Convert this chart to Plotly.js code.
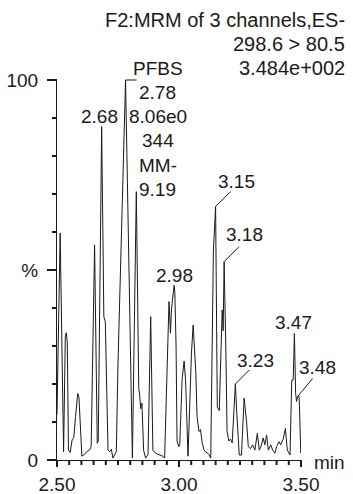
<!DOCTYPE html>
<html><head><meta charset="utf-8">
<script src="https://cdn.plot.ly/plotly-3.0.1.min.js"></script>
<style>html,body{margin:0;padding:0;background:#fff}#chart{width:353px;height:494px}</style>
</head><body><div id="chart"></div>
<script>
// ---- data ----
const times = [
 2.500, 2.513, 2.527, 2.534, 2.538, 2.542, 2.547, 2.554, 2.562, 2.569,
 2.576, 2.585, 2.590, 2.595, 2.602, 2.613, 2.622, 2.633, 2.640, 2.654,
 2.665, 2.669, 2.683, 2.692, 2.698, 2.709, 2.716, 2.723, 2.729, 2.743,
 2.750, 2.781, 2.809, 2.825, 2.835, 2.839, 2.843, 2.848, 2.855, 2.863,
 2.873, 2.884, 2.893, 2.900, 2.913, 2.934, 2.941, 2.959, 2.965, 2.969,
 2.980, 2.983, 2.988, 2.992, 2.999, 3.003, 3.013, 3.021, 3.027, 3.037,
 3.044, 3.051, 3.058, 3.062, 3.069, 3.074, 3.082, 3.088, 3.095, 3.103,
 3.113, 3.122, 3.130, 3.141, 3.150, 3.157, 3.165, 3.172, 3.177, 3.181,
 3.185, 3.192, 3.197, 3.204, 3.211, 3.218, 3.231, 3.237, 3.243, 3.247,
 3.256, 3.267, 3.277, 3.284, 3.293, 3.302, 3.311, 3.321, 3.329, 3.336,
 3.345, 3.352, 3.359, 3.366, 3.376, 3.384, 3.393, 3.400, 3.410, 3.417,
 3.427, 3.436, 3.444, 3.455, 3.462, 3.468, 3.473, 3.478, 3.482, 3.486,
 3.491, 3.493, 3.499
];
const intensity = [
 12, 59.7, 2.2, 32.5, 33.5, 31, 2.6, 2, 5.3, 6,
 11.4, 17.5, 16.5, 9, 1, 1.5, 2.2, 2.6, 3.5, 56.6,
 4.4, 5, 87.7, 37.7, 36.4, 2.6, 2.2, 2.8, 0.5, 2.2,
 25.5, 100, 0.5, 70.6, 19, 17, 13.5, 15, 2.6, 0.5,
 1.5, 37.7, 2.6, 2, 1.5, 1, 0.5, 41.7, 33.4, 39.5,
 46, 44, 30, 5, 3.5, 4, 21.5, 26, 21, 1,
 15, 28, 35.5, 30, 23, 11.4, 7.5, 8, 4.5, 2.5,
 2, 1.5, 0.5, 55, 66.7, 14, 13, 29, 39.5, 34,
 52.2, 29, 7.5, 5, 5.5, 4.5, 20, 12, 6, 1.3,
 1.3, 16.3, 10, 3.5, 3, 4, 2.6, 7, 2.6, 3.5,
 5.8, 4, 6.6, 2.6, 4, 2.6, 1.8, 3.5, 4.8, 4,
 5.5, 8.3, 2.6, 1.3, 21, 21, 33.3, 17.5, 15.4, 16.7,
 17, 15.8, 1.8
];
const peakTimes  = [2.683, 2.980, 3.150, 3.185, 3.231, 3.473, 3.486];
const peakLabels = ['2.68', '2.98', '3.15', '3.18', '3.23', '3.47', '3.48'];
const mainPeakTime = 2.781;
const mainPeakLines = ['PFBS', '2.78', '8.06e0', '344', 'MM-', '9.19'];
const headerLines = ['F2:MRM of 3 channels,ES-', '298.6 > 80.5', '3.484e+002'];
const xTickVals = [2.5, 3.0, 3.5];
const xTickText = ['2.50', '3.00', '3.50'];
const xMinorStep = 0.05;
const yTickVals = [0, 50, 100];
const yTickText = ['0', '%', '100'];
const yMinorStep = 10;
const xUnit = 'min';

// ---- styling / placement ----
const INK = '#1a1a1a';
const FONT = {family: 'Liberation Sans, Arial, Helvetica, sans-serif', size: 19, color: INK};
const HEAD_FONT = Object.assign({}, FONT, {size: 20});
const W = 353, H = 494, M = {l: 57, r: 52, t: 80, b: 34};
const PW = W - M.l - M.r, PH = H - M.t - M.b;
const X_RANGE = [2.5, 3.5], Y_RANGE = [0, 100];
const TICK = {xMajor: 7, xMinor: 5, yMajor: 10, yMinor: 5, width: 2};
const labelStyle = [
  {dx: -2, dy: 10, cx: 0,  cy: 0},     // 2.68
  {dx: 0,  dy: 10, cx: 0,  cy: 0},     // 2.98
  {dx: 21, dy: 25, cx: 15, cy: 15},    // 3.15
  {dx: 20, dy: 27, cx: 15, cy: 15},    // 3.18
  {dx: 20, dy: 24, cx: 14, cy: 14},    // 3.23
  {dx: -1, dy: 11, cx: 0,  cy: 0},     // 3.47
  {dx: 20, dy: 29, cx: 15, cy: 18}     // 3.48
];
const headerPx = {right: 347, ys: [20, 44, 68]};
const mainBlock = {dx: 32, ys: [12, -12.3, -36.5, -60.8, -85, -109.3], connector: 11};

function valueAt(t) {
  let best = 0;
  for (let i = 1; i < times.length; i++) {
    if (Math.abs(times[i] - t) < Math.abs(times[best] - t)) best = i;
  }
  return intensity[best];
}
const pxToPaperX = px => (px - M.l) / PW;
const pxToPaperY = py => (H - M.b - py) / PH;
const xToPaper = v => (v - X_RANGE[0]) / (X_RANGE[1] - X_RANGE[0]);
const yToPaper = v => (v - Y_RANGE[0]) / (Y_RANGE[1] - Y_RANGE[0]);

const annotations = [];
const shapes = [];
const ink = {color: INK, width: 1};
const tickInk = {color: INK, width: TICK.width};

// tick marks
const nx = Math.round((X_RANGE[1] - X_RANGE[0]) / xMinorStep);
for (let k = 0; k <= nx; k++) {
  const v = X_RANGE[0] + k * xMinorStep;
  const major = xTickVals.some(m => Math.abs(m - v) < 1e-9);
  const len = major ? TICK.xMajor : TICK.xMinor;
  shapes.push({type: 'line', xref: 'paper', yref: 'paper',
    x0: xToPaper(v), x1: xToPaper(v), y0: 0, y1: -len / PH, line: tickInk});
}
const ny = Math.round((Y_RANGE[1] - Y_RANGE[0]) / yMinorStep);
for (let k = 0; k <= ny; k++) {
  const v = Y_RANGE[0] + k * yMinorStep;
  const major = yTickVals.some(m => Math.abs(m - v) < 1e-9);
  const len = major ? TICK.yMajor : TICK.yMinor;
  shapes.push({type: 'line', xref: 'paper', yref: 'paper',
    x0: 0, x1: -len / PW, y0: yToPaper(v), y1: yToPaper(v), line: tickInk});
}

headerLines.forEach((txt, i) => {
  annotations.push({text: txt, xref: 'paper', yref: 'paper',
    x: pxToPaperX(headerPx.right), y: pxToPaperY(headerPx.ys[i]),
    xanchor: 'right', yanchor: 'middle', showarrow: false, font: HEAD_FONT});
});

peakTimes.forEach((t, i) => {
  const v = valueAt(t), s = labelStyle[i];
  annotations.push({text: peakLabels[i], xref: 'x', yref: 'y', x: t, y: v,
    xshift: s.dx, yshift: s.dy, xanchor: 'center', yanchor: 'middle',
    showarrow: false, font: FONT});
  if (s.cx || s.cy) {
    const x0 = xToPaper(t), y0 = yToPaper(v);
    shapes.push({type: 'line', xref: 'paper', yref: 'paper',
      x0: x0, y0: y0, x1: x0 + s.cx / PW, y1: y0 + s.cy / PH, line: ink});
  }
});

const mainVal = valueAt(mainPeakTime);
mainPeakLines.forEach((txt, i) => {
  annotations.push({text: txt, xref: 'x', yref: 'y', x: mainPeakTime, y: mainVal,
    xshift: mainBlock.dx, yshift: mainBlock.ys[i], xanchor: 'center', yanchor: 'middle',
    showarrow: false, font: FONT});
});
{
  const x0 = xToPaper(mainPeakTime), y0 = yToPaper(mainVal);
  shapes.push({type: 'line', xref: 'paper', yref: 'paper',
    x0: x0, x1: x0 + mainBlock.connector / PW, y0: y0, y1: y0, line: ink});
}

annotations.push({text: xUnit, xref: 'paper', yref: 'paper', x: pxToPaperX(312), y: 0,
  xanchor: 'left', yanchor: 'middle', yshift: -2, showarrow: false, font: FONT});

const trace = {x: times, y: intensity, type: 'scatter', mode: 'lines',
  line: {color: INK, width: 1}, hoverinfo: 'skip'};

const layout = {
  width: W, height: H, margin: M,
  paper_bgcolor: '#fff', plot_bgcolor: '#fff',
  font: FONT, showlegend: false,
  xaxis: {range: X_RANGE, showline: true, linecolor: INK, linewidth: 1, ticks: '',
    tickmode: 'array', tickvals: xTickVals, ticktext: xTickText, ticklabelstandoff: 7,
    showgrid: false, zeroline: false},
  yaxis: {range: Y_RANGE, showline: true, linecolor: INK, linewidth: 1, ticks: '',
    tickmode: 'array', tickvals: yTickVals, ticktext: yTickText, ticklabelstandoff: 14,
    showgrid: false, zeroline: false},
  annotations: annotations, shapes: shapes
};

Plotly.newPlot('chart', [trace], layout, {displayModeBar: false});
</script>
</body></html>
